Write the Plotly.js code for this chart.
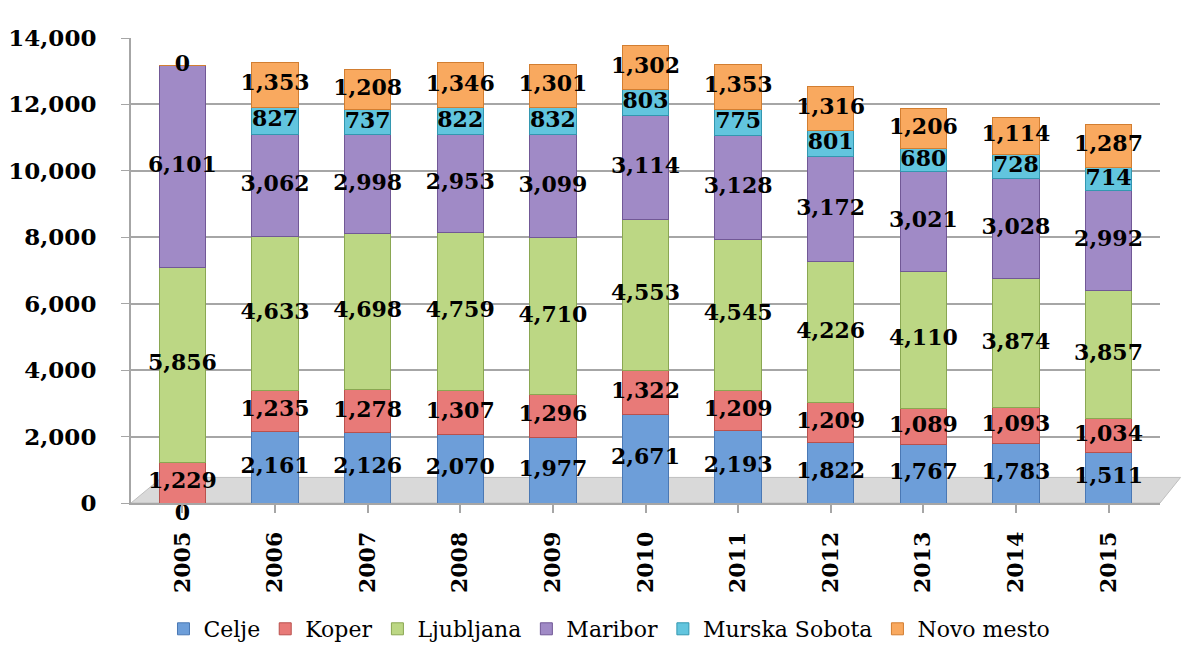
<!DOCTYPE html>
<html>
<head>
<meta charset="utf-8">
<script src="https://cdn.plot.ly/plotly-3.0.1.min.js"></script>
<style>html,body{margin:0;padding:0;background:#fff;}#chart{width:1182px;height:650px;}</style>
</head>
<body>
<div id="chart"></div>
<script>
const years = ['2005','2006','2007','2008','2009','2010','2011','2012','2013','2014','2015'];
const celje = [0, 2161, 2126, 2070, 1977, 2671, 2193, 1822, 1767, 1783, 1511];
const koper = [1229, 1235, 1278, 1307, 1296, 1322, 1209, 1209, 1089, 1093, 1034];
const ljubljana = [5856, 4633, 4698, 4759, 4710, 4553, 4545, 4226, 4110, 3874, 3857];
const maribor = [6101, 3062, 2998, 2953, 3099, 3114, 3128, 3172, 3021, 3028, 2992];
const murskaSobota = [null, 827, 737, 822, 832, 803, 775, 801, 680, 728, 714];
const novoMesto = [0, 1353, 1208, 1346, 1301, 1302, 1353, 1316, 1206, 1114, 1287];
const yTicks = [0, 2000, 4000, 6000, 8000, 10000, 12000, 14000];

const series = [
  {name: 'Celje', values: celje, color: '#6d9ed9', line: '#4a78b4'},
  {name: 'Koper', values: koper, color: '#e87a78', line: '#b9514d'},
  {name: 'Ljubljana', values: ljubljana, color: '#bcd784', line: '#8aa752'},
  {name: 'Maribor', values: maribor, color: '#a08ac6', line: '#715896'},
  {name: 'Murska Sobota', values: murskaSobota, color: '#62c5de', line: '#3397b0'},
  {name: 'Novo mesto', values: novoMesto, color: '#f9a95f', line: '#d27e31'}
];

const fmt = v => v.toLocaleString('en-US');
const traces = [];
const cum = years.map(() => 0);
const labelX = [], labelY = [], labelT = [], labelPos = [];
series.forEach(s => {
  traces.push({
    type: 'bar', name: s.name, x: years, y: s.values,
    marker: {color: s.color, line: {color: s.line, width: 1}},
    hoverinfo: 'x+y+name'
  });
  s.values.forEach((v, i) => {
    if (v === null) return;
    labelX.push(years[i]);
    labelY.push(cum[i] + v / 2);
    labelT.push(fmt(v));
    labelPos.push(v === 0 && cum[i] === 0 ? 'bottom center' : 'middle center');
    cum[i] += v;
  });
});
traces.push({
  type: 'scatter', mode: 'text', x: labelX, y: labelY, text: labelT,
  textposition: labelPos,
  textfont: {family: 'DejaVu Serif', size: 22, color: '#000', weight: 'bold'},
  showlegend: false, hoverinfo: 'skip', cliponaxis: false
});

const layout = {
  width: 1182, height: 650,
  margin: {l: 131, r: 22, t: 38, b: 147, autoexpand: false},
  barmode: 'stack', bargap: 0.5,
  paper_bgcolor: '#ffffff', plot_bgcolor: '#ffffff',
  font: {family: 'DejaVu Serif', color: '#000'},
  xaxis: {
    type: 'category', tickangle: -90, automargin: false,
    tickfont: {family: 'DejaVu Serif', size: 22, color: '#000', weight: 'bold'},
    showline: true, linecolor: '#a6a6a6', linewidth: 2,
    ticks: 'outside', ticklen: 8, tickcolor: '#a6a6a6', tickwidth: 1.5,
    showgrid: false, ticklabelstandoff: 10
  },
  yaxis: {
    range: [0, 14000], tickvals: yTicks, automargin: false,
    ticktext: yTicks.map(fmt),
    tickfont: {family: 'DejaVu Serif', size: 23, color: '#000', weight: 'bold'},
    showgrid: true, gridcolor: '#a6a6a6', gridwidth: 2,
    showline: true, linecolor: '#a6a6a6', linewidth: 2,
    ticks: 'outside', ticklen: 8, tickcolor: '#a6a6a6',
    ticklabelstandoff: 20, zeroline: false
  },
  shapes: [{
    type: 'path', xref: 'paper', yref: 'paper', layer: 'below',
    path: 'M 0,0 L 1,0 L 1.02,0.055 L 0.03,0.055 Z',
    fillcolor: '#d9d9d9', line: {color: '#bfbfbf', width: 1}
  }],
  legend: {
    orientation: 'h', x: 0.465, xanchor: 'center',
    yref: 'container', y: 0, yanchor: 'bottom',
    font: {family: 'DejaVu Serif', size: 22, color: '#000'},
    traceorder: 'normal', itemwidth: 30
  },
  showlegend: true
};

Plotly.newPlot('chart', traces, layout, {displayModeBar: false});
</script>
</body>
</html>
